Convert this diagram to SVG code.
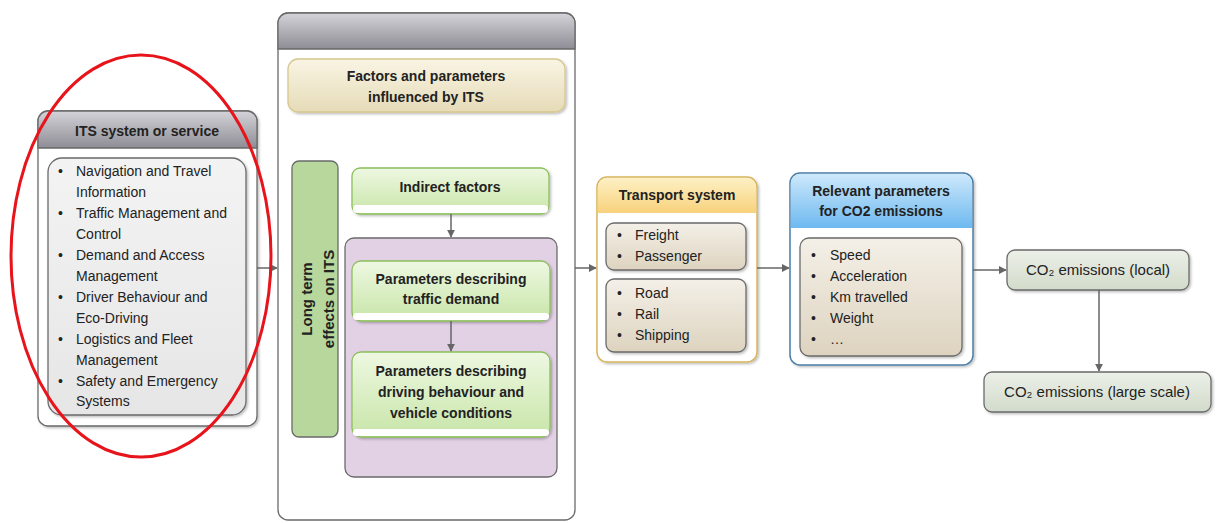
<svg xmlns="http://www.w3.org/2000/svg" width="1218" height="523" viewBox="0 0 1218 523">
<defs>
<linearGradient id="gHead" x1="0" y1="0" x2="0" y2="1"><stop offset="0" stop-color="#d4d3d9"/><stop offset="1" stop-color="#8e8d95"/></linearGradient>
<linearGradient id="gTan" x1="0" y1="0" x2="0" y2="1"><stop offset="0" stop-color="#f4f0e8"/><stop offset="1" stop-color="#ddd3bf"/></linearGradient>
<linearGradient id="gGray" x1="0" y1="0" x2="0" y2="1"><stop offset="0" stop-color="#f3f3f3"/><stop offset="1" stop-color="#e6e6e6"/></linearGradient>
<linearGradient id="gGreen" x1="0" y1="0" x2="0" y2="1"><stop offset="0" stop-color="#eef8e2"/><stop offset="1" stop-color="#c8e5a8"/></linearGradient>
<linearGradient id="gFactor" x1="0" y1="0" x2="0" y2="1"><stop offset="0" stop-color="#f9f5e4"/><stop offset="1" stop-color="#e6dbb8"/></linearGradient>
<linearGradient id="gYellow" x1="0" y1="0" x2="0" y2="1"><stop offset="0" stop-color="#fdf0c4"/><stop offset="1" stop-color="#f8d27c"/></linearGradient>
<linearGradient id="gBlue" x1="0" y1="0" x2="0" y2="1"><stop offset="0" stop-color="#cde8fb"/><stop offset="1" stop-color="#6db9f0"/></linearGradient>
<linearGradient id="gCO2" x1="0" y1="0" x2="0" y2="1"><stop offset="0" stop-color="#ecf0e8"/><stop offset="1" stop-color="#d2dbcb"/></linearGradient>
<marker id="arr" viewBox="0 0 10 10" refX="9" refY="5" markerWidth="8" markerHeight="8" orient="auto" markerUnits="userSpaceOnUse"><path d="M0,0 L10,5 L0,10 z" fill="#666"/></marker>
<filter id="sh" x="-10%" y="-10%" width="130%" height="130%"><feDropShadow dx="1.5" dy="1.5" stdDeviation="1" flood-color="#000" flood-opacity="0.25"/></filter>
</defs>
<style>
text{font-family:"Liberation Sans","Noto Sans",Arial,sans-serif;fill:#222;}
.t{font-size:14px;}
.b{font-size:14px;font-weight:bold;}
.c{text-anchor:middle;}
.box{stroke:#6a6a6a;stroke-width:1.3;}
.con{stroke:#666;stroke-width:1.5;fill:none;}
</style>

<g id="its">
<rect x="38" y="111" width="219" height="315" rx="10" fill="#fff" class="box" filter="url(#sh)"/>
<path d="M38,148 V121 a10,10 0 0 1 10,-10 H247 a10,10 0 0 1 10,10 V148 z" fill="url(#gHead)" stroke="#6a6a6a" stroke-width="1.3"/>
<text x="147" y="136" class="b c">ITS system or service</text>
<rect x="48" y="158" width="198" height="257" rx="14" fill="url(#gGray)" class="box" filter="url(#sh)"/>
<g class="t">
<text x="58" y="176">•</text><text x="76" y="176">Navigation and Travel</text>
<text x="76" y="197">Information</text>
<text x="58" y="218">•</text><text x="76" y="218">Traffic Management and</text>
<text x="76" y="239">Control</text>
<text x="58" y="260">•</text><text x="76" y="260">Demand and Access</text>
<text x="76" y="281">Management</text>
<text x="58" y="302">•</text><text x="76" y="302">Driver Behaviour and</text>
<text x="76" y="323">Eco-Driving</text>
<text x="58" y="344">•</text><text x="76" y="344">Logistics and Fleet</text>
<text x="76" y="365">Management</text>
<text x="58" y="386">•</text><text x="76" y="386">Safety and Emergency</text>
<text x="76" y="406">Systems</text>
</g>
</g>

<g id="middle">
<rect x="278" y="13" width="297" height="507" rx="10" fill="#fff" class="box"/>
<path d="M278,49 V23 a10,10 0 0 1 10,-10 H565 a10,10 0 0 1 10,10 V49 z" fill="url(#gHead)" stroke="#6a6a6a" stroke-width="1.3"/>
</g>

<g id="factors">
<rect x="288" y="59" width="277" height="53" rx="10" fill="url(#gFactor)" stroke="#d6c88e" stroke-width="1.3" filter="url(#sh)"/>
<text x="426" y="81" class="b c">Factors and parameters</text>
<text x="426" y="102" class="b c">influenced by ITS</text>
</g>

<g id="longterm">
<rect x="292" y="161" width="46" height="276" rx="7" fill="#b7d79c" class="box"/>
<g transform="translate(315,299) rotate(-90)">
<text x="0" y="-3" class="b c" style="font-size:15px">Long term</text>
<text x="0" y="19" class="b c" style="font-size:15px">effects on ITS</text>
</g>
</g>

<g id="indirect">
<rect x="352" y="168" width="197" height="46" rx="8" fill="url(#gGreen)" stroke="#8cbf5c" stroke-width="1.3" filter="url(#sh)"/>
<rect x="353" y="205" width="195" height="8" rx="4" fill="#fff"/>
<text x="450" y="192" class="b c">Indirect factors</text>
</g>

<g id="purple">
<rect x="345" y="238" width="212" height="239" rx="9" fill="#e2d0e5" class="box"/>
</g>

<g id="demand">
<rect x="352" y="261" width="198" height="60" rx="9" fill="url(#gGreen)" stroke="#8cbf5c" stroke-width="1.3" filter="url(#sh)"/>
<rect x="353" y="313" width="196" height="7" rx="3.5" fill="#fff"/>
<text x="451" y="284" class="b c">Parameters describing</text>
<text x="451" y="304" class="b c">traffic demand</text>
</g>

<g id="driving">
<rect x="352" y="352" width="198" height="85" rx="9" fill="url(#gGreen)" stroke="#8cbf5c" stroke-width="1.3" filter="url(#sh)"/>
<rect x="353" y="429" width="196" height="7" rx="3.5" fill="#fff"/>
<text x="451" y="376" class="b c">Parameters describing</text>
<text x="451" y="397" class="b c">driving behaviour and</text>
<text x="451" y="418" class="b c">vehicle conditions</text>
</g>

<g id="transport">
<rect x="597" y="177" width="160" height="185" rx="10" fill="#fff" stroke="#d8b55a" stroke-width="1.5" filter="url(#sh)"/>
<path d="M597.8,213 V187 a9,9 0 0 1 9,-9 H747 a9,9 0 0 1 9,9 V213 z" fill="url(#gYellow)"/>
<text x="677" y="200" class="b c">Transport system</text>
<rect x="606" y="223" width="140" height="47" rx="8" fill="url(#gTan)" class="box" filter="url(#sh)"/>
<g class="t">
<text x="617" y="240">•</text><text x="635" y="240">Freight</text>
<text x="617" y="261">•</text><text x="635" y="261">Passenger</text>
</g>
<rect x="606" y="279" width="140" height="73" rx="8" fill="url(#gTan)" class="box" filter="url(#sh)"/>
<g class="t">
<text x="617" y="298">•</text><text x="635" y="298">Road</text>
<text x="617" y="319">•</text><text x="635" y="319">Rail</text>
<text x="617" y="340">•</text><text x="635" y="340">Shipping</text>
</g>
</g>

<g id="relevant">
<rect x="790" y="173" width="183" height="192" rx="10" fill="#fff" stroke="#4a7ea9" stroke-width="1.5" filter="url(#sh)"/>
<path d="M790.8,228 V183 a9,9 0 0 1 9,-9 H963 a9,9 0 0 1 9,9 V228 z" fill="url(#gBlue)"/>
<text x="881" y="196" class="b c">Relevant parameters</text>
<text x="881" y="216" class="b c">for CO2 emissions</text>
<rect x="800" y="238" width="162" height="118" rx="9" fill="url(#gTan)" class="box" filter="url(#sh)"/>
<g class="t">
<text x="811" y="260">•</text><text x="830" y="260">Speed</text>
<text x="811" y="281">•</text><text x="830" y="281">Acceleration</text>
<text x="811" y="302">•</text><text x="830" y="302">Km travelled</text>
<text x="811" y="323">•</text><text x="830" y="323">Weight</text>
<text x="811" y="344">•</text><text x="830" y="344">…</text>
</g>
</g>

<g id="co2local">
<rect x="1007" y="250" width="182" height="40" rx="8" fill="url(#gCO2)" class="box" filter="url(#sh)"/>
<text x="1098" y="275" class="t c" style="font-size:15px">CO₂ emissions (local)</text>
</g>

<g id="co2large">
<rect x="984" y="372" width="227" height="40" rx="8" fill="url(#gCO2)" class="box" filter="url(#sh)"/>
<text x="1097" y="397" class="t c" style="font-size:15px">CO₂ emissions (large scale)</text>
</g>

<g id="connectors">
<line x1="257" y1="268" x2="277" y2="268" class="con" marker-end="url(#arr)"/>
<line x1="575" y1="268" x2="596" y2="268" class="con" marker-end="url(#arr)"/>
<line x1="757" y1="268" x2="789" y2="268" class="con" marker-end="url(#arr)"/>
<line x1="973" y1="270" x2="1006" y2="270" class="con" marker-end="url(#arr)"/>
<line x1="1099" y1="290" x2="1099" y2="371" class="con" marker-end="url(#arr)"/>
<line x1="451" y1="214" x2="451" y2="237" class="con" marker-end="url(#arr)"/>
<line x1="451" y1="321" x2="451" y2="351" class="con" marker-end="url(#arr)"/>
</g>

<ellipse cx="141" cy="256" rx="130" ry="201" fill="none" stroke="#e8141b" stroke-width="3"/>
</svg>
